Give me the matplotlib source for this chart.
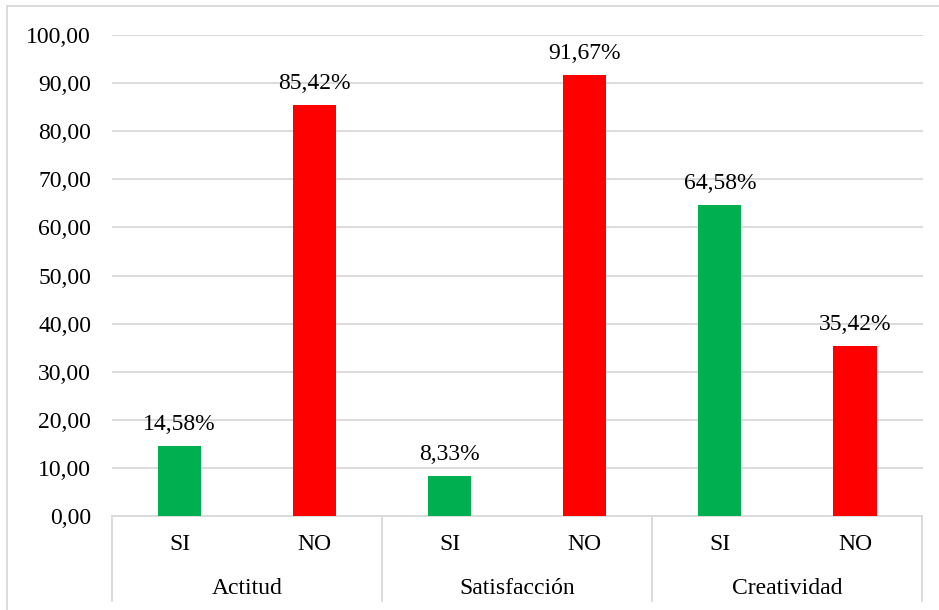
import matplotlib.pyplot as plt
from matplotlib.lines import Line2D

# data
groups = ['Actitud', 'Satisfacción', 'Creatividad']
answers = ['SI', 'NO']
si_vals = [14.58, 8.33, 64.58]
no_vals = [85.42, 91.67, 35.42]

green = '#00B050'
red = '#FF0000'
grid_c = '#D9D9D9'
fs = 17

plt.rcParams['font.family'] = ['Liberation Serif', 'DejaVu Serif']

fig = plt.figure(figsize=(9.39, 6.10), dpi=100)
ax = fig.add_axes([112 / 939, 1 - 516 / 610, (922.5 - 112) / 939, (516 - 35) / 610])

w = 0.32
for i, (s, n) in enumerate(zip(si_vals, no_vals)):
    xs, xn = 2 * i + 0.5, 2 * i + 1.5
    ax.bar(xs, s, width=w, color=green, zorder=3)
    ax.bar(xn, n, width=w, color=red, zorder=3)
    for x, v in ((xs, s), (xn, n)):
        ax.annotate(f'{v:.2f}%'.replace('.', ','), (x, v), xytext=(0, 8),
                    textcoords='offset points', ha='center', va='bottom', fontsize=fs)

ax.set_xlim(0, 6)
ax.set_ylim(0, 100)
ax.set_yticks(range(0, 101, 10))
ax.set_yticklabels([f'{t:.2f}'.replace('.', ',') for t in range(0, 101, 10)], fontsize=fs)
ax.tick_params(axis='y', length=0, pad=15)
ax.set_xticks([])
ax.yaxis.grid(True, color=grid_c, linewidth=1.3, zorder=0)
for sp in ['top', 'right', 'left']:
    ax.spines[sp].set_visible(False)
ax.spines['bottom'].set_color(grid_c)
ax.spines['bottom'].set_linewidth(1.3)

# multi-level category axis
trans = ax.get_xaxis_transform()
drop = (601 - 516) / (516 - 35)
for k in range(4):
    ax.add_line(Line2D([2 * k, 2 * k], [0, -drop], transform=trans, color=grid_c,
                       linewidth=1.3, clip_on=False))
for i, g in enumerate(groups):
    for j, a in enumerate(answers):
        ax.text(2 * i + j + 0.5, -(545 - 516) / (516 - 35), a, transform=trans,
                ha='center', va='center', fontsize=fs)
    ax.text(2 * i + 1, -(588 - 516) / (516 - 35), g, transform=trans,
            ha='center', va='center', fontsize=fs)

# outer chart border (top and left visible)
fig.add_artist(Line2D([7 / 939, 1], [1 - 6 / 610, 1 - 6 / 610], color=grid_c, linewidth=1.3))
fig.add_artist(Line2D([7 / 939, 7 / 939], [0, 1 - 6 / 610], color=grid_c, linewidth=1.3))

fig.savefig('out.png', dpi=100)
